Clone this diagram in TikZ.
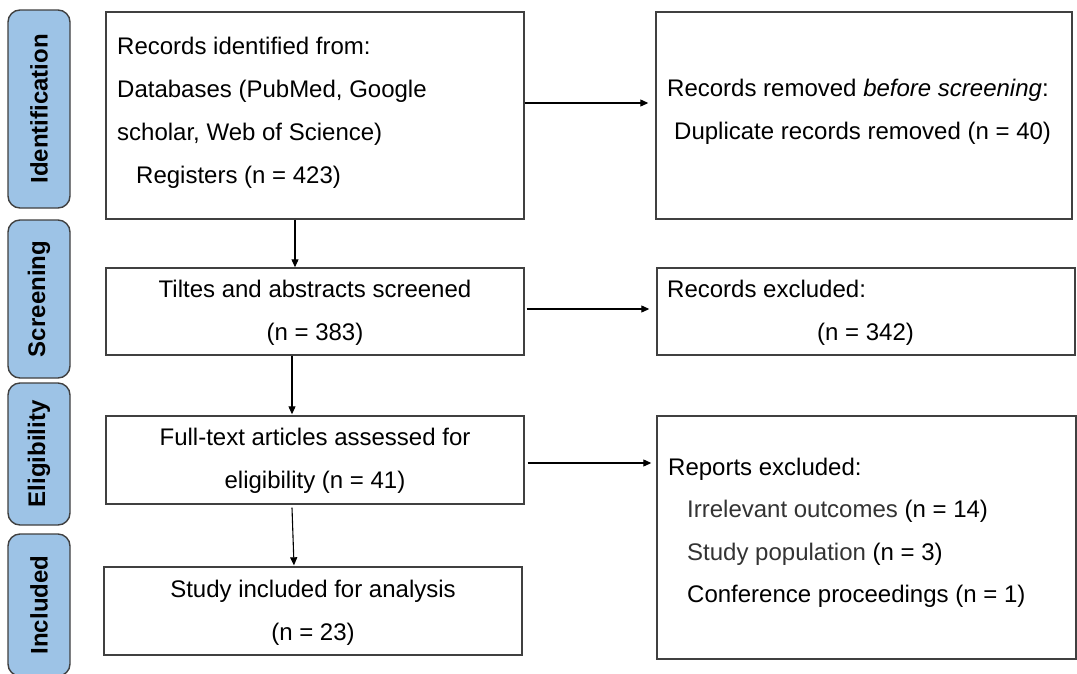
\documentclass[tikz,border=0pt]{standalone}
\usepackage{fontspec}
\setmainfont{Liberation Sans}
\usetikzlibrary{arrows.meta}
\definecolor{sideblue}{HTML}{9DC3E6}
\definecolor{edgegray}{HTML}{404040}
\definecolor{txtgray}{HTML}{333333}
\tikzset{
  box/.style={draw=edgegray, line width=1.4pt, fill=white, inner sep=0pt},
  side/.style={draw=edgegray, line width=1.4pt, fill=sideblue, rounded corners=12pt, inner sep=0pt, minimum width=62pt},
  sidetxt/.style={rotate=90, font=\fontsize{24}{28}\selectfont\bfseries, inner sep=0pt},
  txt/.style={inner sep=0pt, font=\fontsize{24}{28}\selectfont},
  lt/.style={txt, anchor=base west},
  ct/.style={txt, anchor=base},
  arr/.style={draw=black, line width=1.1pt, -{Triangle[length=8pt,width=7pt]}}
}
\begin{document}
\begin{tikzpicture}[x=1pt,y=-1pt]
\useasboundingbox[fill=white] (0,0) rectangle (1077,673);
% side labels
\node[side, minimum height=198pt] (s1) at (39,109) {};
\node[sidetxt] (s1t) at (s1.center) {Identification};
\node[side, minimum height=158pt] (s2) at (39,299) {};
\node[sidetxt] (s2t) at (s2.center) {Screening};
\node[side, minimum height=142pt] (s3) at (39,454) {};
\node[sidetxt] (s3t) at (s3.center) {Eligibility};
\node[side, minimum height=142pt] (s4) at (39,605) {};
\node[sidetxt] (s4t) at (s4.center) {Included};
% main boxes
\node[box, minimum width=418pt, minimum height=207pt] (b1) at (315,115.5) {};
\node[box, minimum width=418pt, minimum height=87pt] (b2) at (315,311.5) {};
\node[box, minimum width=418pt, minimum height=88pt] (b3) at (315,460) {};
\node[box, minimum width=418pt, minimum height=88pt] (b4) at (313,611) {};
\node[box, minimum width=416pt, minimum height=207pt] (r1) at (864,115.5) {};
\node[box, minimum width=418pt, minimum height=87pt] (r2) at (866,311.5) {};
\node[box, minimum width=419pt, minimum height=243pt] (r3) at (866.5,537.5) {};
% texts
\node[lt] (b1a) at (117,54) {Records identified from:};
\node[lt] (b1b) at (117,97) {Databases (PubMed, Google};
\node[lt] (b1c) at (117,140) {scholar, Web of Science)};
\node[lt] (b1d) at (136,183) {Registers (n = 423)};
\node[ct] (b2a) at (315,297) {Tiltes and abstracts screened};
\node[ct] (b2b) at (315,340) {(n = 383)};
\node[ct] (b3a) at (315,445) {Full-text articles assessed for};
\node[ct] (b3b) at (315,488) {eligibility (n = 41)};
\node[ct] (b4a) at (313,597) {Study included for analysis};
\node[ct] (b4b) at (313,640) {(n = 23)};
\node[lt] (r1a) at (667,96) {Records removed \textit{before screening}:};
\node[lt] (r1b) at (674,139) {Duplicate records removed (n = 40)};
\node[lt] (r2a) at (667,297) {Records excluded:};
\node[lt] (r2b) at (817,340) {(n = 342)};
\node[lt] (r3a) at (668,475) {Reports excluded:};
\node[lt] (r3b) at (687,517) {\textcolor{txtgray}{Irrelevant outcomes} (n = 14)};
\node[lt] (r3c) at (687,560) {\textcolor{txtgray}{Study population} (n = 3)};
\node[lt] (r3d) at (687,602) {Conference proceedings (n = 1)};
% arrows
\draw[arr] ([xshift=-20pt]b1.south) -- ([xshift=-20pt]b2.north);
\draw[arr] ([xshift=-23pt]b2.south) -- ([xshift=-23pt,yshift=1pt]b3.north);
\draw[arr] ([xshift=-23pt,yshift=-3pt]b3.south) -- ([xshift=-19pt,yshift=1pt]b4.north);
\draw[arr] ([yshift=12.5pt]b1.east) -- ([yshift=12.5pt,xshift=-7pt]b1.east -| r1.west);
\draw[arr] ([xshift=2pt,yshift=2.5pt]b2.east) -- ([xshift=-7pt,yshift=2.5pt]b2.east -| r2.west);
\draw[arr] ([xshift=3pt,yshift=-3pt]b3.east) -- ([xshift=-5pt,yshift=-3pt]b3.east -| r3.west);
\end{tikzpicture}
\end{document}
